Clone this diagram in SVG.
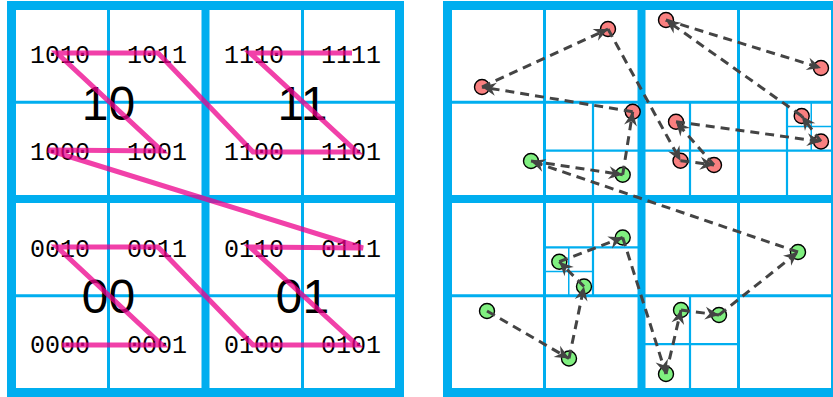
<svg xmlns="http://www.w3.org/2000/svg" width="833" height="397" viewBox="0 0 833 397">
<style>
.bg{fill:#fff}
.g1{stroke:#00AEEF;stroke-width:3;fill:none}
.g2{stroke:#00AEEF;stroke-width:2.2;fill:none}
.g3{stroke:#00AEEF;stroke-width:1.5;fill:none}
.gm{stroke:#00AEEF;stroke-width:8;fill:none}
.go{stroke:#00AEEF;stroke-width:9;fill:none}
.code{font-family:"Liberation Mono","DejaVu Sans Mono",monospace;font-size:25px;fill:#000;text-anchor:middle}
.big{font-family:"Liberation Sans","DejaVu Sans",sans-serif;font-size:48px;fill:#000;text-anchor:middle}
.z{fill:none;stroke:#EC008C;stroke-opacity:0.75;stroke-width:5;stroke-linejoin:miter;stroke-miterlimit:4}
.red{fill:#F98080;stroke:#000;stroke-width:1.4}
.grn{fill:#80F080;stroke:#000;stroke-width:1.4}
.ar{stroke:#444;stroke-width:3;stroke-dasharray:9 6;fill:none;marker-end:url(#ah)}
</style>
<defs>
<marker id="ah" markerUnits="userSpaceOnUse" orient="auto" overflow="visible" markerWidth="1" markerHeight="1" refX="0" refY="0">
<path d="M0,0 L-14,-6.5 L-9.5,0 L-14,6.5 Z" fill="#444"/>
</marker>
</defs>
<rect width="833" height="397" class="bg"/>

<!-- LEFT PANEL -->
<g id="left-grid">
<path class="g1" d="M108.5,5.5V392.5M302.5,5.5V392.5M11.5,102.25H399.5M11.5,295.75H399.5"/>
<path class="gm" d="M205.5,5.5V392.5M11.5,199H399.5"/>
<rect class="go" x="11.5" y="5.5" width="388" height="387"/>
</g>
<g id="q10"><text class="big" x="108.5" y="120">10</text></g>
<g id="q11"><text class="big" x="302.5" y="120">11</text></g>
<g id="q00"><text class="big" x="108.5" y="313">00</text></g>
<g id="q01"><text class="big" x="302.5" y="313">01</text></g>
<g id="c1010"><text class="code" x="60" y="63">1010</text></g>
<g id="c1011"><text class="code" x="157" y="63">1011</text></g>
<g id="c1110"><text class="code" x="254" y="63">1110</text></g>
<g id="c1111"><text class="code" x="351" y="63">1111</text></g>
<g id="c1000"><text class="code" x="60" y="159.5">1000</text></g>
<g id="c1001"><text class="code" x="157" y="159.5">1001</text></g>
<g id="c1100"><text class="code" x="254" y="159.5">1100</text></g>
<g id="c1101"><text class="code" x="351" y="159.5">1101</text></g>
<g id="c0010"><text class="code" x="60" y="256.5">0010</text></g>
<g id="c0011"><text class="code" x="157" y="256.5">0011</text></g>
<g id="c0110"><text class="code" x="254" y="256.5">0110</text></g>
<g id="c0111"><text class="code" x="351" y="256.5">0111</text></g>
<g id="c0000"><text class="code" x="60" y="353">0000</text></g>
<g id="c0001"><text class="code" x="157" y="353">0001</text></g>
<g id="c0100"><text class="code" x="254" y="353">0100</text></g>
<g id="c0101"><text class="code" x="351" y="353">0101</text></g>

<g id="zcurve">
<polyline class="z" points="62,345 162,345 57,247 158,247 253,345 357,345 250,247 363,248 48,150 162,151 57,53 158,53 253,152 357,152 250,53 352,53"/>
</g>

<!-- RIGHT PANEL -->
<g id="right-grid">
<path class="g3" d="M811.25,102.25V150.6M787,126.4H835.5M568.75,247.4V295.75M544.5,271.6H593"/>
<path class="g2" d="M593,102.25V199M544.5,150.6H641.5M690,102.25V199M787,102.25V199M641.5,150.6H835.5M593,199V295.75M544.5,247.4H641.5M690,295.75V392.5M641.5,344.1H738.5"/>
<path class="g1" d="M544.5,5.5V392.5M738.5,5.5V392.5M447.5,102.25H835.5M447.5,295.75H835.5"/>
<path class="gm" d="M641.5,5.5V392.5M447.5,199H835.5"/>
<rect class="go" x="447.5" y="5.5" width="388" height="387"/>
</g>

<g id="p1"><circle class="grn" cx="487" cy="311" r="7.5"/></g>
<g id="p2"><circle class="grn" cx="569" cy="358.5" r="7.5"/></g>
<g id="p3"><circle class="grn" cx="584" cy="286.5" r="7.5"/></g>
<g id="p4"><circle class="grn" cx="559.3" cy="261.7" r="7.5"/></g>
<g id="p5"><circle class="grn" cx="622.7" cy="237.5" r="7.5"/></g>
<g id="p6"><circle class="grn" cx="666" cy="374" r="7.5"/></g>
<g id="p7"><circle class="grn" cx="681" cy="310" r="7.5"/></g>
<g id="p8"><circle class="grn" cx="719" cy="315" r="7.5"/></g>
<g id="p9"><circle class="grn" cx="798" cy="252" r="7.5"/></g>
<g id="p10"><circle class="grn" cx="531" cy="161" r="7.5"/></g>
<g id="p11"><circle class="grn" cx="622.7" cy="174.7" r="7.5"/></g>
<g id="p12"><circle class="red" cx="632.7" cy="111.7" r="7.5"/></g>
<g id="p13"><circle class="red" cx="482" cy="87" r="7.5"/></g>
<g id="p14"><circle class="red" cx="608" cy="29" r="7.5"/></g>
<g id="p15"><circle class="red" cx="680.5" cy="160.7" r="7.5"/></g>
<g id="p16"><circle class="red" cx="714" cy="165" r="7.5"/></g>
<g id="p17"><circle class="red" cx="676" cy="121.7" r="7.5"/></g>
<g id="p18"><circle class="red" cx="821" cy="141.5" r="7.5"/></g>
<g id="p19"><circle class="red" cx="801.7" cy="116" r="7.5"/></g>
<g id="p20"><circle class="red" cx="666" cy="20" r="7.5"/></g>
<g id="p21"><circle class="red" cx="821" cy="68" r="7.5"/></g>

<g id="connectors">
<line class="ar" x1="487" y1="311" x2="569" y2="358.5"/>
<line class="ar" x1="569" y1="358.5" x2="584" y2="286.5"/>
<line class="ar" x1="584" y1="286.5" x2="559.3" y2="261.7"/>
<line class="ar" x1="559.3" y1="261.7" x2="622.7" y2="237.5"/>
<line class="ar" x1="622.7" y1="237.5" x2="666" y2="374"/>
<line class="ar" x1="666" y1="374" x2="681" y2="310"/>
<line class="ar" x1="681" y1="310" x2="719" y2="315"/>
<line class="ar" x1="719" y1="315" x2="798" y2="252"/>
<line class="ar" x1="798" y1="252" x2="531" y2="161"/>
<line class="ar" x1="531" y1="161" x2="622.7" y2="174.7"/>
<line class="ar" x1="622.7" y1="174.7" x2="632.7" y2="111.7"/>
<line class="ar" x1="632.7" y1="111.7" x2="482" y2="87"/>
<line class="ar" x1="482" y1="87" x2="608" y2="29"/>
<line class="ar" x1="608" y1="29" x2="680.5" y2="160.7"/>
<line class="ar" x1="680.5" y1="160.7" x2="714" y2="165"/>
<line class="ar" x1="714" y1="165" x2="676" y2="121.7"/>
<line class="ar" x1="676" y1="121.7" x2="821" y2="141.5"/>
<line class="ar" x1="821" y1="141.5" x2="801.7" y2="116"/>
<line class="ar" x1="801.7" y1="116" x2="666" y2="20"/>
<line class="ar" x1="666" y1="20" x2="821" y2="68"/>
</g>
</svg>
